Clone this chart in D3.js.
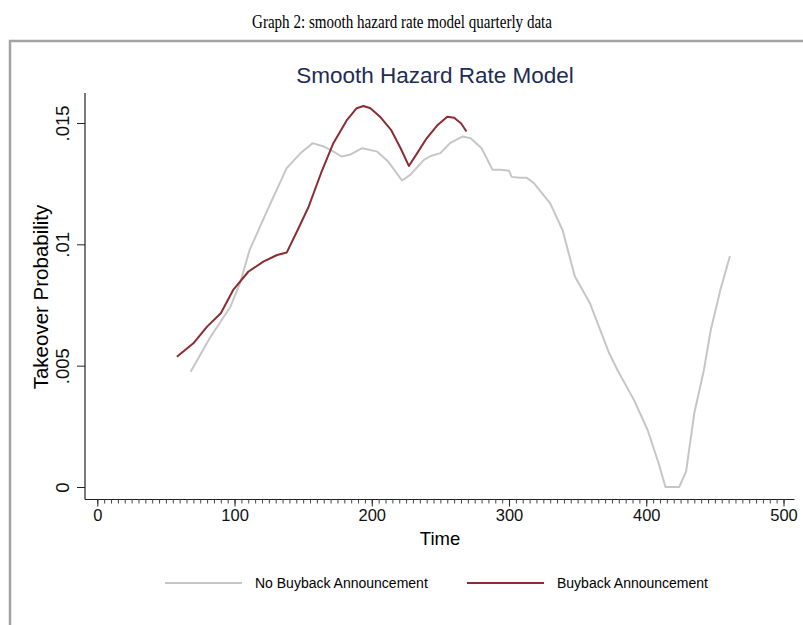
<!DOCTYPE html>
<html>
<head>
<meta charset="utf-8">
<script src="https://cdn.jsdelivr.net/npm/d3@7"></script>
<style>
  body { margin: 0; background: #fff; }
  svg { display: block; font-family: "Liberation Sans", Arial, sans-serif; }
</style>
</head>
<body>
<div id="wrap"></div>
<script>
// ── Données ───────────────────────────────────────────────────────────────
const noBuyTime = [68, 82, 97, 104, 111, 124, 138, 148, 157, 165, 170, 178, 184, 193, 204, 212, 222, 228, 238, 243, 250, 257, 266, 272, 280, 288, 294, 300, 302, 308, 313, 318, 330, 339, 348, 359, 373, 379, 391, 401, 409, 414, 424, 429, 435, 442, 447, 454, 461];
const noBuyProb = [.00475, .00614, .00743, .0084, .00977, .01142, .01314, .01375, .01417, .01403, .01389, .01362, .01369, .01396, .01382, .01341, .01263, .01286, .01348, .01364, .01376, .01417, .01444, .01437, .01396, .01307, .01307, .01303, .01278, .01274, .01274, .01253, .01169, .01059, .00867, .00757, .00551, .00482, .00359, .00235, .00098, 0, 0, .00063, .00304, .00482, .00647, .00812, .00952];

const buyTime = [58, 70, 80, 90, 99, 101, 110, 121, 131, 138, 146, 154, 163, 172, 182, 189, 194, 199, 206, 214, 221, 227, 233, 240, 248, 255, 260, 265, 269];
const buyProb = [.00537, .00592, .00661, .00716, .00812, .00826, .00887, .00929, .00956, .00966, .01059, .01155, .01293, .01417, .01513, .01561, .0157, .01561, .01526, .01472, .01396, .01323, .01375, .01437, .01492, .01526, .01522, .01499, .01465];

const xTicks = [0, 100, 200, 300, 400, 500];
const yTicks = [0, .005, .01, .015];
const yTickLabels = ['0', '.005', '.01', '.015'];

const series = [
  { name: 'No Buyback Announcement', t: noBuyTime, v: noBuyProb, color: '#c6c6c6' },
  { name: 'Buyback Announcement',    t: buyTime,   v: buyProb,   color: '#8b2c33' },
];

// ── Mise en page ──────────────────────────────────────────────────────────
const W = 803, H = 625;
const svg = d3.select('#wrap').append('svg').attr('width', W).attr('height', H);

const x = d3.scaleLinear().domain([0, 500]).range([97.3, 783.5]);
const y = d3.scaleLinear().domain([0, 0.015]).range([487, 123]);
const axisY0 = 499.5, axisX0 = 85;

// Titre du document (police serif un peu condensée)
svg.append('text')
  .attr('x', 402).attr('y', 28)
  .attr('text-anchor', 'middle')
  .attr('textLength', 300)
  .attr('lengthAdjust', 'spacingAndGlyphs')
  .style('font-family', '"Liberation Serif", "Times New Roman", serif')
  .style('font-size', '18px')
  .text('Graph 2: smooth hazard rate model quarterly data');

// Cadre gris
svg.append('rect')
  .attr('x', 10).attr('y', 41).attr('width', 810).attr('height', 620)
  .attr('fill', 'none').attr('stroke', '#a3a3a3').attr('stroke-width', 2.5);

// Titre du graphique
svg.append('text')
  .attr('x', 435).attr('y', 83)
  .attr('text-anchor', 'middle')
  .style('font-size', '22.5px')
  .style('fill', '#1f2c55')
  .text('Smooth Hazard Rate Model');

// ── Axes ──────────────────────────────────────────────────────────────────
const gx = svg.append('g').attr('transform', `translate(0,${axisY0})`);
gx.append('line').attr('x1', axisX0).attr('x2', x(508)).attr('stroke', '#222').attr('stroke-width', 1.2);
gx.append('g')
  .call(d3.axisBottom(x).tickValues(d3.range(0, 501, 5)).tickSize(4).tickFormat(''))
  .call(g => g.select('.domain').remove())
  .selectAll('line').attr('stroke', '#444');
gx.append('g')
  .call(d3.axisBottom(x).tickValues(xTicks).tickSize(7).tickPadding(3))
  .call(g => g.select('.domain').remove())
  .call(g => g.selectAll('line').attr('stroke', '#222'))
  .call(g => g.selectAll('text').style('font-size', '16.5px').style('fill', '#111')
    .style('font-family', '"Liberation Sans", Arial, sans-serif'));

svg.append('text')
  .attr('x', 440).attr('y', 545)
  .attr('text-anchor', 'middle')
  .style('font-size', '18.5px')
  .text('Time');

const gy = svg.append('g').attr('transform', `translate(${axisX0},0)`);
gy.append('line').attr('y1', 93).attr('y2', axisY0).attr('stroke', '#222').attr('stroke-width', 1.2);
gy.append('g')
  .call(d3.axisLeft(y).tickValues(yTicks).tickSize(8).tickFormat((d, i) => yTickLabels[i]))
  .call(g => g.select('.domain').remove())
  .call(g => g.selectAll('line').attr('stroke', '#222'))
  .call(g => g.selectAll('text')
    .attr('x', null).attr('dy', null)
    .attr('text-anchor', 'middle')
    .attr('transform', 'translate(-16,0) rotate(-90)')
    .style('font-size', '18.5px').style('fill', '#111')
    .style('font-family', '"Liberation Sans", Arial, sans-serif'));

svg.append('text')
  .attr('transform', 'translate(48,297) rotate(-90)')
  .attr('text-anchor', 'middle')
  .style('font-size', '20.5px')
  .text('Takeover Probability');

// ── Courbes ───────────────────────────────────────────────────────────────
const line = d3.line().x(d => x(d[0])).y(d => y(d[1]));
svg.append('g').selectAll('path')
  .data(series)
  .join('path')
  .attr('d', s => line(s.t.map((t, i) => [t, s.v[i]])))
  .attr('fill', 'none')
  .attr('stroke', s => s.color)
  .attr('stroke-width', 2)
  .attr('stroke-linejoin', 'round');

// ── Légende ───────────────────────────────────────────────────────────────
const legend = svg.append('g').attr('transform', 'translate(0,583)');
const legX = [165, 467];
legend.selectAll('g')
  .data(series)
  .join('g')
  .attr('transform', (d, i) => `translate(${legX[i]},0)`)
  .each(function (d) {
    const g = d3.select(this);
    g.append('line').attr('x1', 0).attr('x2', 77)
      .attr('stroke', d.color).attr('stroke-width', 2);
    g.append('text').attr('x', 90).attr('dy', '0.35em')
      .style('font-size', '14px').text(d.name);
  });
</script>
</body>
</html>
